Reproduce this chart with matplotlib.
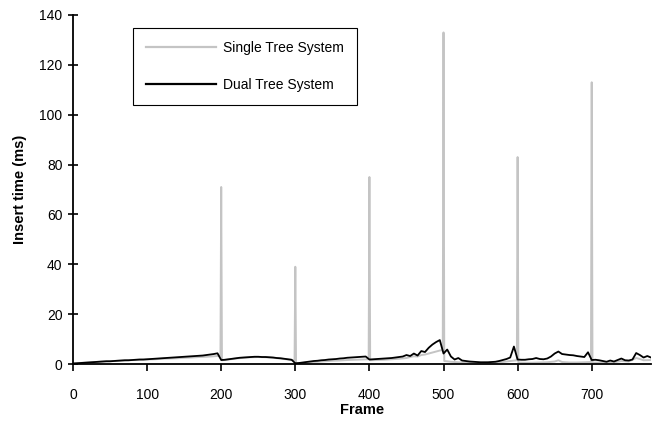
import matplotlib
matplotlib.use("Agg")
import matplotlib.pyplot as plt

plt.rcParams['font.family'] = ['Liberation Sans', 'DejaVu Sans']

# Dual tree system: insert time (ms) sampled every 5 frames, 0..780
dual_frames = list(range(0, 785, 5))
dual_values = [
    0.2, 0.3, 0.4, 0.5, 0.6, 0.7, 0.8, 0.9, 1.0, 1.1,      # 0-45
    1.1, 1.2, 1.3, 1.4, 1.5, 1.5, 1.6, 1.7, 1.8, 1.8,      # 50-95
    1.9, 2.0, 2.1, 2.2, 2.3, 2.4, 2.5, 2.6, 2.7, 2.8,      # 100-145
    2.9, 3.0, 3.1, 3.2, 3.3, 3.4, 3.6, 3.8, 4.0, 4.3,      # 150-195
    1.6, 1.7, 1.9, 2.1, 2.3, 2.5, 2.6, 2.7, 2.8, 2.9,      # 200-245
    2.9, 2.8, 2.8, 2.7, 2.6, 2.4, 2.3, 2.1, 1.9, 1.7,      # 250-295
    0.3, 0.4, 0.6, 0.8, 1.0, 1.2, 1.3, 1.5, 1.6, 1.8,      # 300-345
    1.9, 2.0, 2.2, 2.3, 2.5, 2.6, 2.7, 2.8, 2.9, 3.0,      # 350-395
    1.8, 1.9, 2.0, 2.1, 2.2, 2.3, 2.4, 2.6, 2.8, 3.0,      # 400-445
    3.6, 3.2, 4.2, 3.4, 5.2, 4.8, 6.5, 7.8, 8.8, 9.6,      # 450-495
    4.2, 5.8, 3.0, 1.8, 2.4, 1.4, 1.2, 1.0, 0.9, 0.8,      # 500-545
    0.7, 0.7, 0.7, 0.8, 0.9, 1.2, 1.6, 2.0, 2.6, 7.0,      # 550-595
    1.8, 1.7, 1.7, 1.9, 2.0, 2.4, 2.0, 1.9, 2.2, 3.0,      # 600-645
    4.2, 5.0, 4.0, 3.8, 3.6, 3.5, 3.2, 3.0, 2.8, 4.7,      # 650-695
    1.6, 1.7, 1.5, 1.2, 0.9, 1.4, 1.0, 1.6, 2.2, 1.5,      # 700-745
    1.4, 1.8, 4.4, 3.6, 2.6, 3.2, 2.6,                     # 750-780
]

# Single tree system: mostly every 10 frames, with one-frame spikes
single_frames = [
    0, 10, 20, 30, 40, 50, 60, 70, 80, 90, 100, 110, 120, 130, 140, 150,
    160, 170, 180, 190, 199, 200, 201, 210, 220, 230, 240, 250, 260, 270,
    280, 290, 299, 300, 301, 310, 320, 330, 340, 350, 360, 370, 380, 390,
    399, 400, 401, 410, 420, 430, 440, 450, 455, 460, 465, 470, 475, 480,
    485, 490, 495, 499, 500, 501, 510, 520, 530, 540, 550, 560, 570, 580,
    590, 599, 600, 601, 610, 620, 630, 640, 650, 655, 660, 670, 680, 690,
    699, 700, 701, 710, 720, 730, 740, 750, 760, 765, 770, 780,
]
single_values = [
    0.2, 0.4, 0.6, 0.8, 1.0, 1.1, 1.3, 1.4, 1.6, 1.7, 1.8, 1.9, 2.1, 2.2, 2.3, 2.5,
    2.6, 2.8, 2.9, 3.1, 3.3, 71.0, 1.5, 1.8, 2.2, 2.5, 2.7, 2.8, 2.7, 2.5,
    2.2, 1.8, 1.5, 39.0, 0.2, 0.4, 0.7, 0.9, 1.1, 1.3, 1.4, 1.6, 1.7, 1.8,
    1.9, 75.0, 1.5, 1.6, 1.7, 1.9, 2.1, 2.4, 2.8, 3.1, 3.0, 3.6, 3.8, 4.2,
    4.6, 5.0, 5.4, 5.6, 133.0, 1.2, 0.9, 0.7, 0.5, 0.5, 0.4, 0.5, 0.6, 0.8,
    1.2, 1.5, 83.0, 0.6, 0.5, 0.5, 0.6, 0.7, 1.0, 1.5, 0.8, 0.6, 0.6, 0.7,
    0.8, 113.0, 0.5, 0.6, 0.6, 0.7, 1.2, 1.0, 2.4, 2.0, 1.5, 1.6,
]

x_ticks = [0, 100, 200, 300, 400, 500, 600, 700]
y_ticks = [0, 20, 40, 60, 80, 100, 120, 140]

fig = plt.figure(figsize=(6.56, 4.22), dpi=100)
ax = fig.add_axes([73 / 656, 1 - 364 / 422, 578 / 656, 349 / 422])

ax.plot(single_frames, single_values, color='#c4c4c4', lw=1.4,
        label='Single Tree System', zorder=2)
ax.plot(dual_frames, dual_values, color='black', lw=1.3,
        label='Dual Tree System', zorder=3)

ax.set_xlim(0, 780)
ax.set_ylim(0, 140)
ax.set_xticks(x_ticks)
ax.set_yticks(y_ticks)
ax.tick_params(axis='x', direction='out', length=5, width=1.2, labelsize=10, pad=12)
ax.tick_params(axis='y', direction='inout', length=7, width=1.2, labelsize=10, pad=4)

for s in ['top', 'right']:
    ax.spines[s].set_visible(False)
for s in ['left', 'bottom']:
    ax.spines[s].set_linewidth(1.3)

ax.set_xlabel('Frame', fontsize=10.5, fontweight='bold', labelpad=1)
ax.set_ylabel('Insert time (ms)', fontsize=10.5, fontweight='bold', labelpad=9)

leg = ax.legend(loc='upper left', bbox_to_anchor=(0.104, 0.964),
                borderaxespad=0, fontsize=10, handlelength=5.0,
                handletextpad=0.55, labelspacing=1.65, borderpad=0.95,
                fancybox=False, framealpha=1, edgecolor='black')
leg.get_frame().set_linewidth(0.8)
for line in leg.get_lines():
    line.set_linewidth(1.6)

fig.savefig('out.png', dpi=100)
